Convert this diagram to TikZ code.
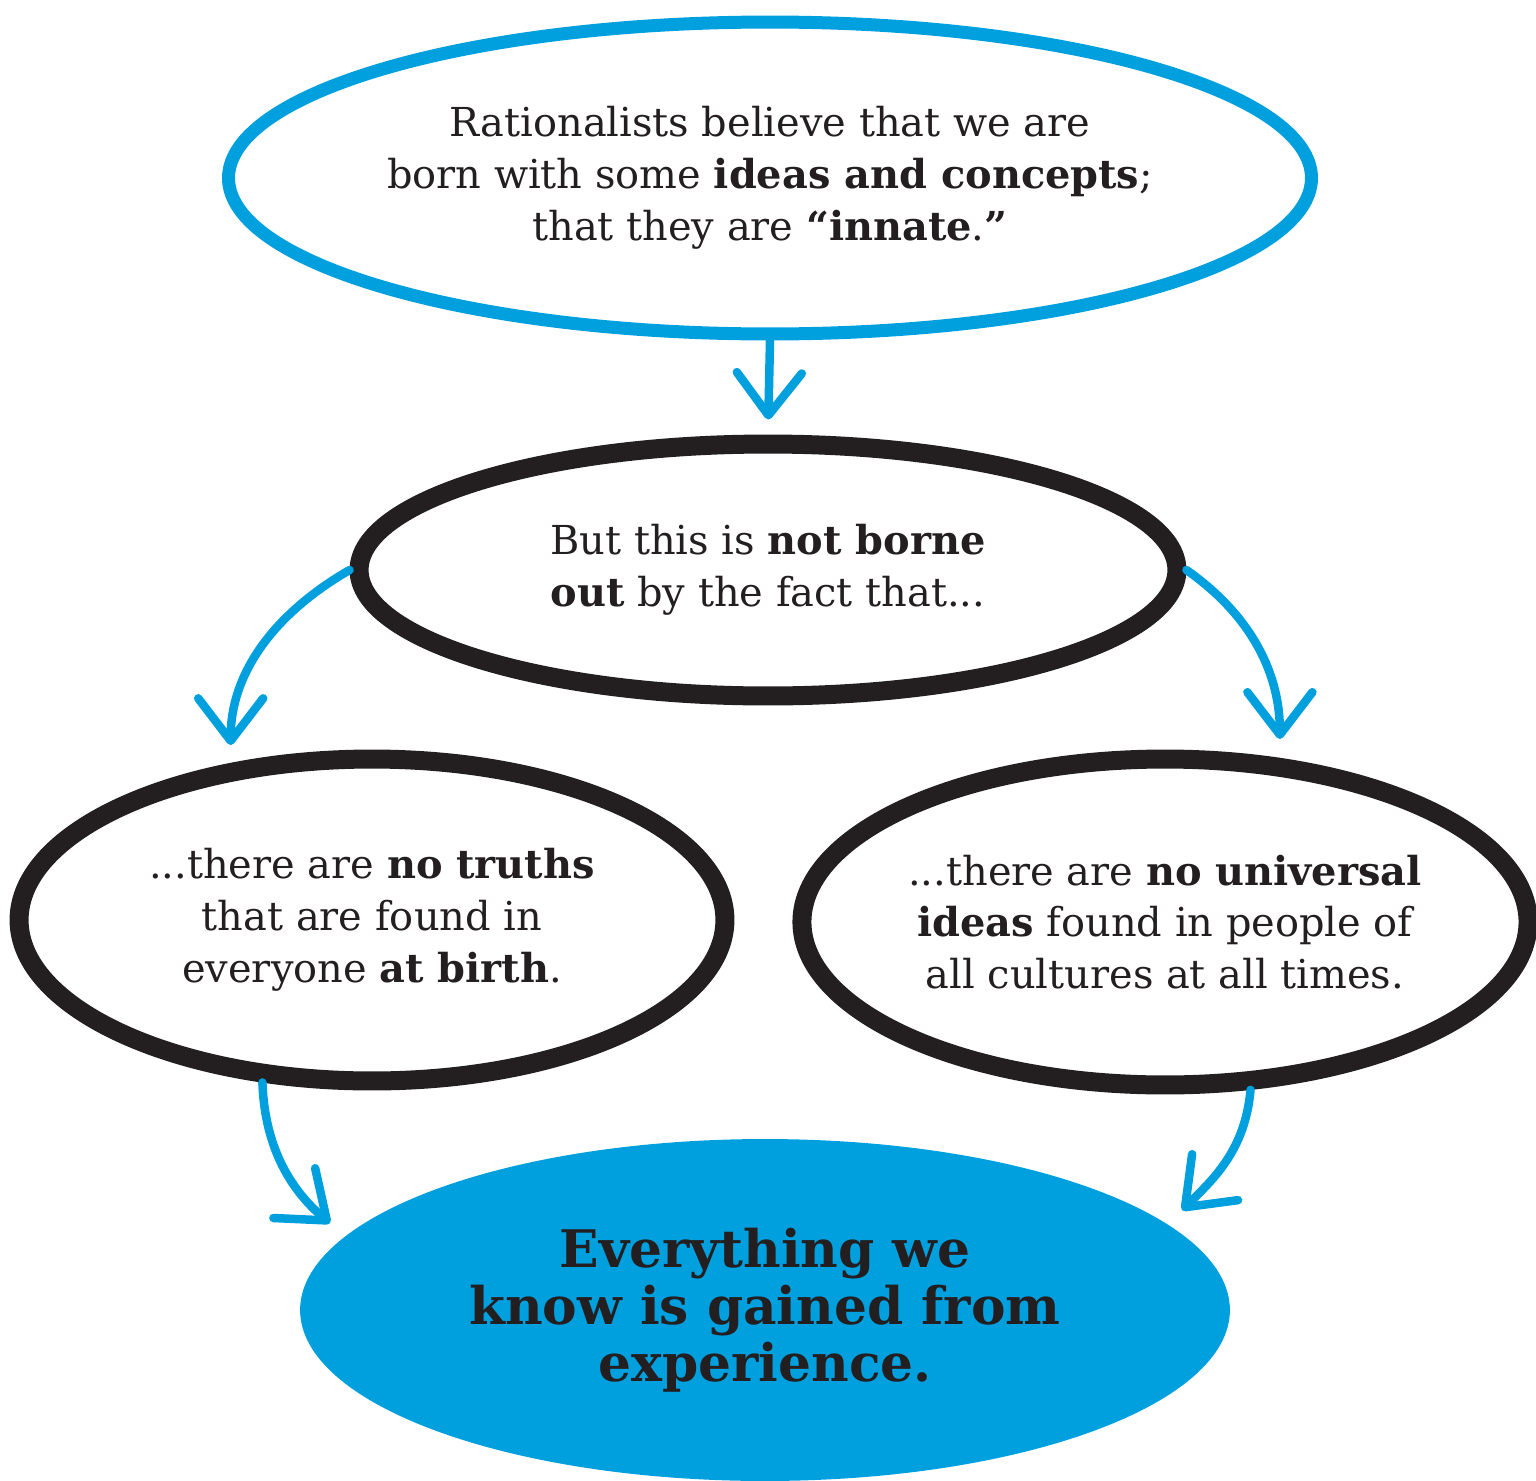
\documentclass[tikz,border=0pt]{standalone}
\usepackage{fontspec}
\setmainfont{DejaVu Serif}
\usetikzlibrary{shapes.geometric,arrows.meta}
\definecolor{skyblue}{RGB}{0,160,223}
\definecolor{inkblack}{RGB}{35,31,32}
\tikzset{
  bubble/.style={ellipse,draw=inkblack,line width=0.38cm,inner sep=0pt,align=center,
    text=inkblack,font=\fontsize{22.7}{29.5}\selectfont},
  bluebubble/.style={bubble,draw=skyblue,line width=0.26cm},
  result/.style={ellipse,fill=skyblue,inner sep=0pt,align=center,text=inkblack,
    font=\fontsize{29.5}{32.3}\selectfont\bfseries},
  arrowline/.style={draw=skyblue,line width=0.17cm,line cap=round,
    -{Straight Barb[length=0.85cm,width=1.3cm,round]}}
}
\begin{document}
\begin{tikzpicture}[x=0.02cm,y=-0.02cm]
\useasboundingbox (0,0) rectangle (1536,1481);
% the five bubbles
\node[bluebubble,minimum width=21.32cm,minimum height=6.24cm] (top) at (770,178)
  {Rationalists believe that we are\\born with some \textbf{ideas and concepts};\\that they are \textbf{“innate}.\textbf{”}};
\node[bubble,minimum width=16.36cm,minimum height=5.04cm] (mid) at (768,570)
  {But this is \textbf{not borne}\\\textbf{out} by the fact that...};
\node[bubble,minimum width=14.12cm,minimum height=6.44cm] (left) at (372,920)
  {...there are \textbf{no truths}\\that are found in\\everyone \textbf{at birth}.};
\node[bubble,minimum width=14.24cm,minimum height=6.52cm] (right) at (1165,922)
  {...there are \textbf{no universal}\\\textbf{ideas} found in people of\\all cultures at all times.};
\node[result,minimum width=18.6cm,minimum height=6.84cm] (bottom) at (765,1310)
  {Everything we\\know is gained from\\experience.};
% arrows
\draw[arrowline,shorten >=0.3cm] (top.south) -- (mid.north);
\draw[arrowline,shorten >=0.36cm] (mid.west) to[out=210,in=90] (left.132);
\draw[arrowline,shorten >=0.38cm] (mid.east) to[out=-35,in=90] (right.55);
\draw[arrowline,shorten >=0.4cm] (left.236) to[out=-88,in=140] (bottom.170);
\draw[arrowline,shorten >=0.4cm] (right.297) to[out=-95,in=45] (bottom.12);
\end{tikzpicture}
\end{document}
